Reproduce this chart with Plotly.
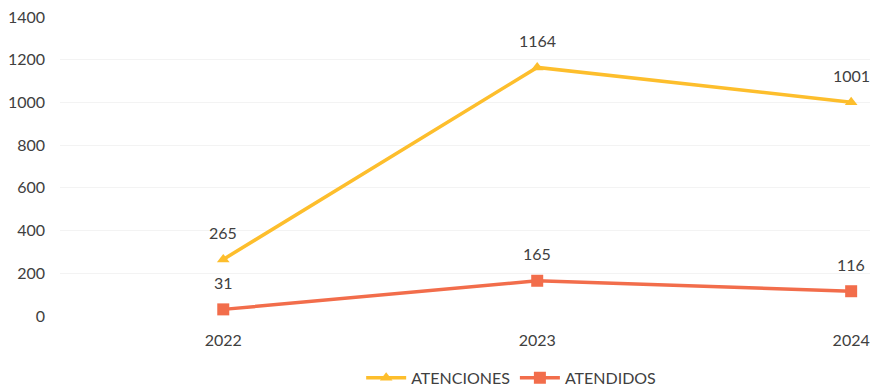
import plotly.graph_objects as go

years = ["2022", "2023", "2024"]
atenciones = [265, 1164, 1001]
atendidos = [31, 165, 116]
y_ticks = [0, 200, 400, 600, 800, 1000, 1200, 1400]

c_aten = "#FDBE2C"
c_atend = "#F26D4B"
txt = "#404040"

fig = go.Figure()
fig.add_trace(go.Scatter(x=years, y=atenciones, name="ATENCIONES", mode="lines+markers",
                         line=dict(color=c_aten, width=3.5),
                         marker=dict(symbol="triangle-up", size=11, color=c_aten)))
fig.add_trace(go.Scatter(x=years, y=atendidos, name="ATENDIDOS", mode="lines+markers",
                         line=dict(color=c_atend, width=3.5),
                         marker=dict(symbol="square", size=12, color=c_atend)))

anns = []
for series in (atenciones, atendidos):
    for i, yv in enumerate(series):
        anns.append(dict(x=i, y=yv, xref="x", yref="y", text=str(yv), showarrow=False,
                         yshift=27, font=dict(size=16, color=txt, family="Lato")))

fig.update_layout(
    width=872, height=392,
    margin=dict(l=60, r=2, t=17, b=76, autoexpand=False),
    paper_bgcolor="white", plot_bgcolor="white",
    font=dict(family="Lato", size=16, color=txt),
    annotations=anns,
    showlegend=True,
    legend=dict(orientation="h", x=0.557, y=-0.207, xanchor="center", yanchor="middle",
                font=dict(size=16, color=txt), itemwidth=40),
    xaxis=dict(type="category", range=[-0.52, 2.06], showgrid=False, zeroline=False,
               showline=False, ticks="", automargin=False, ticklabelstandoff=13,
               tickfont=dict(size=16, color=txt)),
    yaxis=dict(range=[0, 1400], tickvals=y_ticks, showgrid=True, gridcolor="#f3f3f3",
               zeroline=False, showline=False, ticks="", ticklabelstandoff=14,
               automargin=False, tickfont=dict(size=16, color=txt)),
)

fig.write_html("out.html", config={"displayModeBar": False},
               post_script="document.body.style.margin='0';document.body.style.overflow='hidden';")
